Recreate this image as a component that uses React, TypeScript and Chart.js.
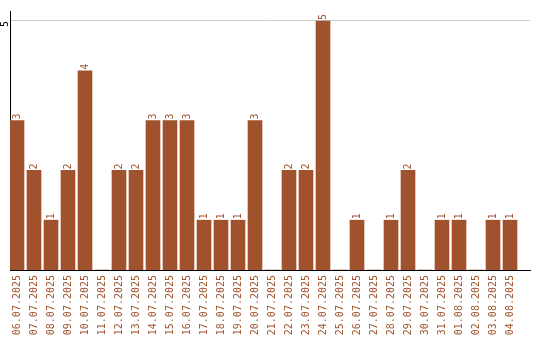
import React, { useEffect, useRef } from "react";
import { Chart, registerables } from "chart.js";

Chart.register(...registerables);

const dates = [
  "06.07.2025", "07.07.2025", "08.07.2025", "09.07.2025", "10.07.2025",
  "11.07.2025", "12.07.2025", "13.07.2025", "14.07.2025", "15.07.2025",
  "16.07.2025", "17.07.2025", "18.07.2025", "19.07.2025", "20.07.2025",
  "21.07.2025", "22.07.2025", "23.07.2025", "24.07.2025", "25.07.2025",
  "26.07.2025", "27.07.2025", "28.07.2025", "29.07.2025", "30.07.2025",
  "31.07.2025", "01.08.2025", "02.08.2025", "03.08.2025", "04.08.2025",
];

const counts = [
  3, 2, 1, 2, 4,
  0, 2, 2, 3, 3,
  3, 1, 1, 1, 3,
  0, 2, 2, 5, 0,
  1, 0, 1, 2, 0,
  1, 1, 0, 1, 1,
];

const yTicks = [5];

const BAR = "#a0522d";
const FONT = "'DejaVu Sans Mono', monospace";

const valueLabels = {
  id: "valueLabels",
  afterDatasetsDraw(chart: any) {
    const ctx = chart.ctx;
    const meta = chart.getDatasetMeta(0);
    ctx.save();
    ctx.font = `10px ${FONT}`;
    ctx.fillStyle = BAR;
    ctx.textAlign = "left";
    ctx.textBaseline = "middle";
    meta.data.forEach((bar: any, i: number) => {
      const v = counts[i];
      if (!v) return;
      ctx.save();
      ctx.translate(bar.x, bar.y - 1);
      ctx.rotate(-Math.PI / 2);
      ctx.fillText(String(v), 0, 0);
      ctx.restore();
    });
    ctx.restore();
  },
};

export default function App() {
  const ref = useRef<HTMLCanvasElement | null>(null);

  useEffect(() => {
    document.body.style.margin = "0";
    const canvas = ref.current;
    if (!canvas) return;
    const chart = new Chart(canvas, {
      type: "bar",
      data: {
        datasets: [
          {
            data: counts.map((v, i) => ({ x: i, y: v })),
            backgroundColor: BAR,
            borderWidth: 0,
            barThickness: 14,
          },
        ],
      },
      options: {
        animation: false,
        responsive: false,
        devicePixelRatio: 1,
        layout: { padding: { top: 10, right: 10, left: 0, bottom: 0 } },
        plugins: {
          legend: { display: false },
          tooltip: { enabled: false },
        },
        scales: {
          x: {
            type: "linear",
            offset: false,
            min: -7 / 17,
            max: 513 / 17,
            grid: { display: false, drawTicks: false },
            border: { display: true, color: "#000000", width: 1 },
            afterBuildTicks: (scale: any) => {
              scale.ticks = dates.map((_, i) => ({ value: i }));
            },
            afterFit: (scale: any) => {
              scale.height = 70;
            },
            ticks: {
              autoSkip: false,
              minRotation: 90,
              maxRotation: 90,
              padding: 5,
              color: BAR,
              font: { family: FONT, size: 10 },
              callback: (v: any) => dates[Math.round(Number(v))] ?? "",
            },
          },
          y: {
            type: "linear",
            min: 0,
            max: 5.2,
            grid: { color: "#cccccc", drawTicks: false, lineWidth: 1 },
            border: { display: true, color: "#000000", width: 1 },
            afterBuildTicks: (scale: any) => {
              scale.ticks = yTicks.map((v) => ({ value: v }));
            },
            afterFit: (scale: any) => {
              scale.width = 10;
            },
            ticks: {
              minRotation: 90,
              maxRotation: 90,
              padding: 5,
              color: "#000000",
              font: { family: FONT, size: 10 },
              callback: (v: any) => String(v),
            },
          },
        },
      },
      plugins: [valueLabels],
    });
    return () => chart.destroy();
  }, []);

  return (
    <div style={{ width: 540, height: 340, background: "#ffffff" }}>
      <canvas ref={ref} width={540} height={340} style={{ display: "block" }} />
    </div>
  );
}
